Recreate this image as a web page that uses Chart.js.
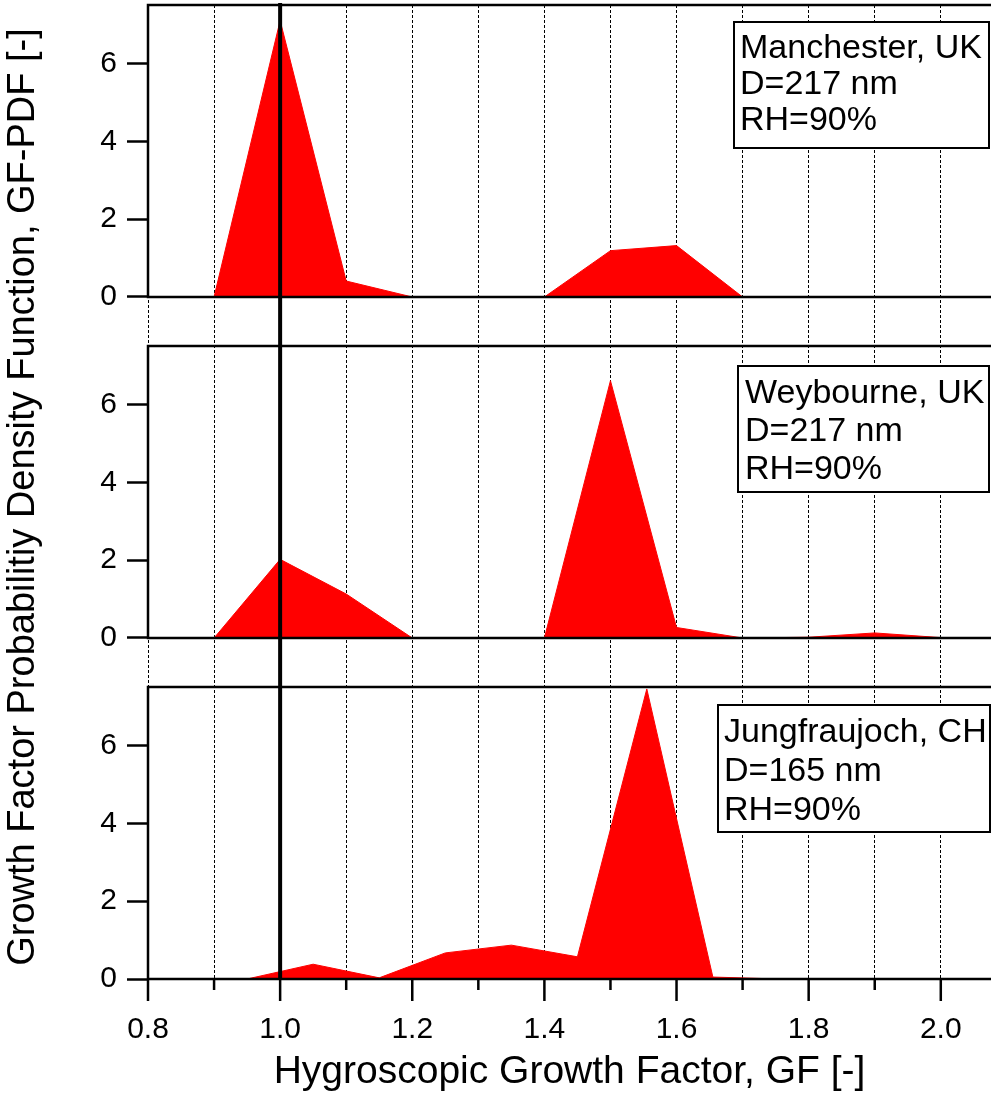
<!DOCTYPE html>
<html><head><meta charset="utf-8">
<script src="https://cdn.jsdelivr.net/npm/chart.js@4"></script>
<style>html,body{margin:0;padding:0;background:#fff;} #wrap{position:relative;width:991px;height:1095px;}</style>
</head><body><div id="wrap"><canvas id="c"></canvas></div>
<script>
// ---- data ----
const gfManchester = [0.8,0.9,1.0,1.1,1.2,1.3,1.4,1.5,1.6,1.7,1.8,1.9,2.0,2.1];
const pdfManchester = [0,0,7.1,0.41,0,0,0,1.19,1.32,0,0,0,0,0];
const gfWeybourne = [0.8,0.9,1.0,1.1,1.2,1.3,1.4,1.5,1.6,1.7,1.8,1.9,2.0,2.1];
const pdfWeybourne = [0,0,2.02,1.13,0,0,0,6.61,0.27,0,0.02,0.13,0.01,0];
const gfJungfraujoch = [0.8,0.85,0.9,0.95,1.05,1.15,1.25,1.35,1.45,1.555,1.655,1.755,1.855,1.955,2.055,2.155];
const pdfJungfraujoch = [0,0,0,0,0.38,0.03,0.67,0.87,0.57,7.45,0.05,0,0,0,0,0];
const siteNames = ['Manchester, UK','Weybourne, UK','Jungfraujoch, CH'];
const diameters = ['D=217 nm','D=217 nm','D=165 nm'];
const humidity = ['RH=90%','RH=90%','RH=90%'];
const xMajorTicks = [0.8,1.0,1.2,1.4,1.6,1.8,2.0];
const xMinorTicks = [0.9,1.1,1.3,1.5,1.7,1.9];
const yTicks = [0,2,4,6];
const xTitle = 'Hygroscopic Growth Factor, GF [-]';
const yTitle = 'Growth Factor Probabilitiy Density Function, GF-PDF [-]';
const referenceGF = 1.0;

// ---- layout / style ----
const FONT = "'Liberation Sans', Arial, Helvetica, sans-serif";
const RED = '#ff0000';
const panelIds = ['yTop','yMid','yBot'];
const Y_MAX = 7.5, GAP_MIN = -1.2586;
const boxLayout = [
  {l:734, t:22, r:989, b:148, tx:740, ty:[58,94,130]},
  {l:738, t:366, r:989, b:492, tx:745, ty:[403,441,479]},
  {l:718, t:705, r:990, b:832, tx:724, ty:[742,781,820]}
];

function toPts(xs, ys){ return xs.map((x,i)=>({x:x, y:ys[i]})); }
function ds(xs, ys, axis){
  return {data: toPts(xs, ys), yAxisID: axis, xAxisID:'x', fill:'origin',
    backgroundColor: RED, borderColor: RED, borderWidth: 1, pointRadius: 0, tension: 0};
}
function isMajor(v){ return xMajorTicks.some(m => Math.abs(m - v) < 1e-6); }

function yAxis(min, weight, order){
  return {
    type:'linear', position:'left', stack:'panels', stackWeight: weight, weight: order,
    min: min, max: Y_MAX,
    afterBuildTicks: s => { s.ticks = yTicks.map(v => ({value:v})); },
    afterFit: s => { s.width = 148; s.paddingTop = 0; s.paddingBottom = 0; s.paddingLeft = 0; s.paddingRight = 0; },
    ticks: {color:'#000', padding:10, font:{family:FONT, size:30}, callback: v => String(v)},
    grid: {drawOnChartArea:false, drawTicks:true, tickLength:21, tickWidth:2.5, tickColor:'#000'},
    border: {display:false}
  };
}

const framePlugin = {
  id:'frames',
  afterDatasetsDraw(chart){
    const ctx = chart.ctx, xs = chart.scales.x, a = chart.chartArea;
    ctx.save();
    ctx.strokeStyle = '#000';
    // reference line at GF = 1.0
    const xr = xs.getPixelForValue(referenceGF);
    ctx.lineWidth = 4;
    ctx.beginPath(); ctx.moveTo(xr, a.top - 2); ctx.lineTo(xr, a.bottom); ctx.stroke();
    // panel frames
    ctx.lineWidth = 2.5; ctx.lineJoin = 'miter';
    panelIds.forEach(id => {
      const s = chart.scales[id];
      const yt = s.getPixelForValue(Y_MAX), y0 = s.getPixelForValue(0);
      ctx.beginPath();
      ctx.moveTo(a.right, yt); ctx.lineTo(a.left, yt); ctx.lineTo(a.left, y0); ctx.lineTo(a.right, y0);
      ctx.stroke();
    });
    // x tick marks
    xMajorTicks.forEach(v => { const p = xs.getPixelForValue(v); ctx.beginPath(); ctx.moveTo(p, a.bottom); ctx.lineTo(p, a.bottom + 22); ctx.stroke(); });
    xMinorTicks.forEach(v => { const p = xs.getPixelForValue(v); ctx.beginPath(); ctx.moveTo(p, a.bottom); ctx.lineTo(p, a.bottom + 11); ctx.stroke(); });
    ctx.restore();
  },
  afterDraw(chart){
    const ctx = chart.ctx;
    ctx.save();
    // annotation boxes
    boxLayout.forEach((b, i) => {
      ctx.fillStyle = '#fff'; ctx.fillRect(b.l, b.t, b.r - b.l, b.b - b.t);
      ctx.strokeStyle = '#000'; ctx.lineWidth = 2; ctx.strokeRect(b.l, b.t, b.r - b.l, b.b - b.t);
      ctx.fillStyle = '#000'; ctx.font = '34px ' + FONT; ctx.textAlign = 'left'; ctx.textBaseline = 'alphabetic';
      [siteNames[i], diameters[i], humidity[i]].forEach((t, k) => ctx.fillText(t, b.tx, b.ty[k]));
    });
    // y title
    ctx.translate(24, 497); ctx.rotate(-Math.PI/2);
    ctx.font = '38px ' + FONT; ctx.textAlign = 'center'; ctx.textBaseline = 'middle'; ctx.fillStyle = '#000';
    ctx.fillText(yTitle, 0, 0);
    ctx.restore();
  }
};

new Chart(document.getElementById('c'), {
  type:'line',
  data:{ datasets:[
    ds(gfManchester, pdfManchester, 'yTop'),
    ds(gfWeybourne, pdfWeybourne, 'yMid'),
    ds(gfJungfraujoch, pdfJungfraujoch, 'yBot')
  ]},
  options:{
    responsive:true, maintainAspectRatio:false, animation:false,
    layout:{padding:{top:5, left:0, right:0, bottom:0}},
    plugins:{legend:{display:false}, tooltip:{enabled:false}},
    scales:{
      x:{
        type:'linear', position:'bottom', min:0.8, max:2.076,
        afterBuildTicks: s => { s.ticks = xMajorTicks.concat(xMinorTicks).sort((p,q)=>p-q).map(v => ({value:v})); },
        afterFit: s => { s.height = 116; s.paddingLeft = 0; s.paddingRight = 0; s.paddingTop = 0; s.paddingBottom = 0; },
        ticks:{autoSkip:false, maxRotation:0, minRotation:0, padding:33, color:'#000', font:{family:FONT, size:30},
          callback: v => isMajor(v) ? v.toFixed(1) : ''},
        grid:{color:'#000', lineWidth:1, drawTicks:false},
        border:{display:false, dash:[3,2]},
        title:{display:true, text:xTitle, color:'#000', font:{family:FONT, size:39, lineHeight:1}, padding:{top:0, bottom:3}}
      },
      yTop: yAxis(GAP_MIN, 341, 3),
      yMid: yAxis(GAP_MIN, 341, 2),
      yBot: yAxis(0, 292, 1)
    }
  },
  plugins:[framePlugin]
});
</script></body></html>
